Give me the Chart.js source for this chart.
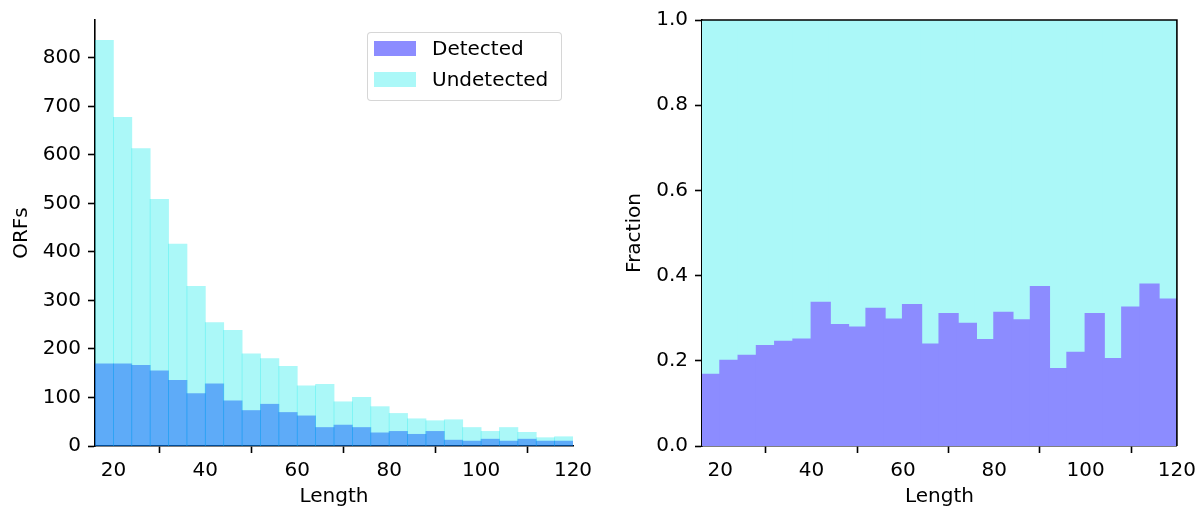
<!DOCTYPE html>
<html>
<head>
<meta charset="utf-8">
<title>ORF length histogram</title>
<script src="https://cdn.jsdelivr.net/npm/chart.js@4.4.0/dist/chart.umd.min.js"></script>
<style>
  html, body { margin: 0; padding: 0; background: #fff; }
  body { width: 1202px; height: 512px; position: relative; overflow: hidden; font-family: "DejaVu Sans", sans-serif; }
  .panel { position: absolute; top: 0; height: 512px; }
  #countsPanel { left: 0; width: 600px; }
  #fractionPanel { left: 600px; width: 602px; }
  #legend {
    position: absolute; left: 367px; top: 32px; width: 195px; height: 69px;
    box-sizing: border-box; border: 1px solid rgba(204, 204, 204, 0.8);
    border-radius: 4px; background: rgba(255, 255, 255, 0.8);
  }
  .legend-row { position: absolute; left: 6px; height: 15px; display: flex; align-items: center; white-space: nowrap; }
  .swatch { width: 42px; height: 15px; flex: none; }
  .legend-row span { margin-left: 16px; font-size: 20px; color: #000; line-height: 15px; }
</style>
</head>
<body>
<div class="panel" id="countsPanel"><canvas id="countsChart"></canvas></div>
<div class="panel" id="fractionPanel"><canvas id="fractionChart"></canvas></div>
<div id="legend"></div>

<script>
// histogram bins (ORF length), 4 wide
const binEdges = [16, 20, 24, 28, 32, 36, 40, 44, 48, 52, 56, 60, 64, 68, 72, 76, 80, 84, 88, 92, 96, 100, 104, 108, 112, 116, 120];

// ORF counts per bin
const detectedCounts = [169, 169, 166, 155, 135, 108, 128, 93, 73, 86, 69, 62, 38, 43, 38, 27, 30, 24, 30, 12, 10, 14, 10, 14, 10, 10];
const undetectedCounts = [836, 677, 613, 508, 416, 329, 254, 238, 190, 180, 164, 124, 127, 91, 100, 81, 67, 56, 52, 54, 38, 30, 38, 28, 17, 19];

// fraction of detected ORFs per bin
const detectedFraction = [0.167, 0.200, 0.212, 0.235, 0.245, 0.250, 0.336, 0.284, 0.278, 0.322, 0.297, 0.331, 0.238, 0.310, 0.287, 0.249, 0.313, 0.295, 0.373, 0.181, 0.219, 0.310, 0.204, 0.325, 0.379, 0.344];

const lengthTicks = [20, 40, 60, 80, 100, 120];
const countTicks = [0, 100, 200, 300, 400, 500, 600, 700, 800];
const fractionTicks = [0, 0.2, 0.4, 0.6, 0.8, 1.0];
const countMax = 878;

const DETECTED = 'rgba(0, 0, 255, 0.45)';
const UNDETECTED = 'rgba(0, 235, 235, 0.33)';
const DETECTED_SOLID = '#8c8cff';
const UNDETECTED_SOLID = '#abf8f8';

Chart.defaults.font.family = "'DejaVu Sans', sans-serif";
Chart.defaults.font.size = 20;
Chart.defaults.color = '#000';

const binCenters = binEdges.slice(0, -1).map((e, i) => (e + binEdges[i + 1]) / 2);
const toPoints = values => values.map((v, i) => ({ x: binCenters[i], y: v }));

function axisStyle() {
  return {
    border: { display: true, color: '#000', width: 1.6 },
    grid: { drawOnChartArea: false, drawTicks: true, tickLength: 7, tickWidth: 1.6, tickColor: '#000' }
  };
}

function lengthAxis() {
  return {
    type: 'linear',
    min: binEdges[0],
    max: binEdges[binEdges.length - 1],
    offset: false,
    ...axisStyle(),
    afterBuildTicks: scale => { scale.ticks = lengthTicks.map(v => ({ value: v })); },
    afterFit: scale => { scale.height = 66; },
    ticks: { padding: 6, maxRotation: 0, autoSkip: false },
    title: { display: true, text: 'Length', padding: { top: 0, bottom: 3 } }
  };
}

function barDefaults(inflate) {
  return { bar: { grouped: false, barPercentage: 1, categoryPercentage: 1, borderWidth: 0, inflateAmount: inflate } };
}

// left panel: overlaid count histograms
new Chart(document.getElementById('countsChart'), {
  type: 'bar',
  data: {
    datasets: [
      { label: 'Detected', data: toPoints(detectedCounts), backgroundColor: DETECTED, order: 1 },
      { label: 'Undetected', data: toPoints(undetectedCounts), backgroundColor: UNDETECTED, order: 0 }
    ]
  },
  options: {
    responsive: true,
    maintainAspectRatio: false,
    animation: false,
    devicePixelRatio: 1,
    datasets: barDefaults(0.4),
    layout: { padding: { left: 6, top: 20, right: 27, bottom: 0 } },
    plugins: { legend: { display: false }, tooltip: { enabled: false } },
    scales: {
      x: lengthAxis(),
      y: {
        type: 'linear',
        min: 0,
        max: countMax,
        ...axisStyle(),
        afterBuildTicks: scale => { scale.ticks = countTicks.map(v => ({ value: v })); },
        afterFit: scale => { scale.width = 89; },
        ticks: { padding: 7 },
        title: { display: true, text: 'ORFs', padding: { top: 4, bottom: 0 } }
      }
    }
  }
});

// closes the box on the top and right of the fraction panel
const frameBox = {
  id: 'frameBox',
  afterDraw(chart) {
    const { ctx, chartArea: a } = chart;
    ctx.save();
    ctx.strokeStyle = '#000';
    ctx.lineWidth = 1.6;
    ctx.beginPath();
    ctx.moveTo(a.left, a.top);
    ctx.lineTo(a.right, a.top);
    ctx.lineTo(a.right, a.bottom);
    ctx.stroke();
    ctx.restore();
  }
};

// right panel: stacked fractions
new Chart(document.getElementById('fractionChart'), {
  type: 'bar',
  data: {
    datasets: [
      { label: 'Detected', data: toPoints(detectedFraction), backgroundColor: DETECTED_SOLID },
      { label: 'Undetected', data: toPoints(detectedFraction.map(f => 1 - f)), backgroundColor: UNDETECTED_SOLID }
    ]
  },
  plugins: [frameBox],
  options: {
    responsive: true,
    maintainAspectRatio: false,
    animation: false,
    devicePixelRatio: 1,
    datasets: barDefaults(1),
    layout: { padding: { left: 20, top: 20, right: 21, bottom: 0 } },
    plugins: { legend: { display: false }, tooltip: { enabled: false } },
    scales: {
      x: { ...lengthAxis(), stacked: true },
      y: {
        type: 'linear',
        min: 0,
        max: 1,
        stacked: true,
        ...axisStyle(),
        afterBuildTicks: scale => { scale.ticks = fractionTicks.map(v => ({ value: v })); },
        afterFit: scale => { scale.width = 82; },
        ticks: { padding: 7, callback: v => Number(v).toFixed(1) },
        title: { display: true, text: 'Fraction', padding: { top: 3, bottom: 0 } }
      }
    }
  }
});

// legend for the count panel
const legend = document.getElementById('legend');
[['Detected', DETECTED], ['Undetected', UNDETECTED]].forEach(([label, color], i) => {
  const row = document.createElement('div');
  row.className = 'legend-row';
  row.style.top = (8 + i * 31) + 'px';
  row.innerHTML = `<div class="swatch" style="background:${color}"></div><span>${label}</span>`;
  legend.appendChild(row);
});
</script>
</body>
</html>
